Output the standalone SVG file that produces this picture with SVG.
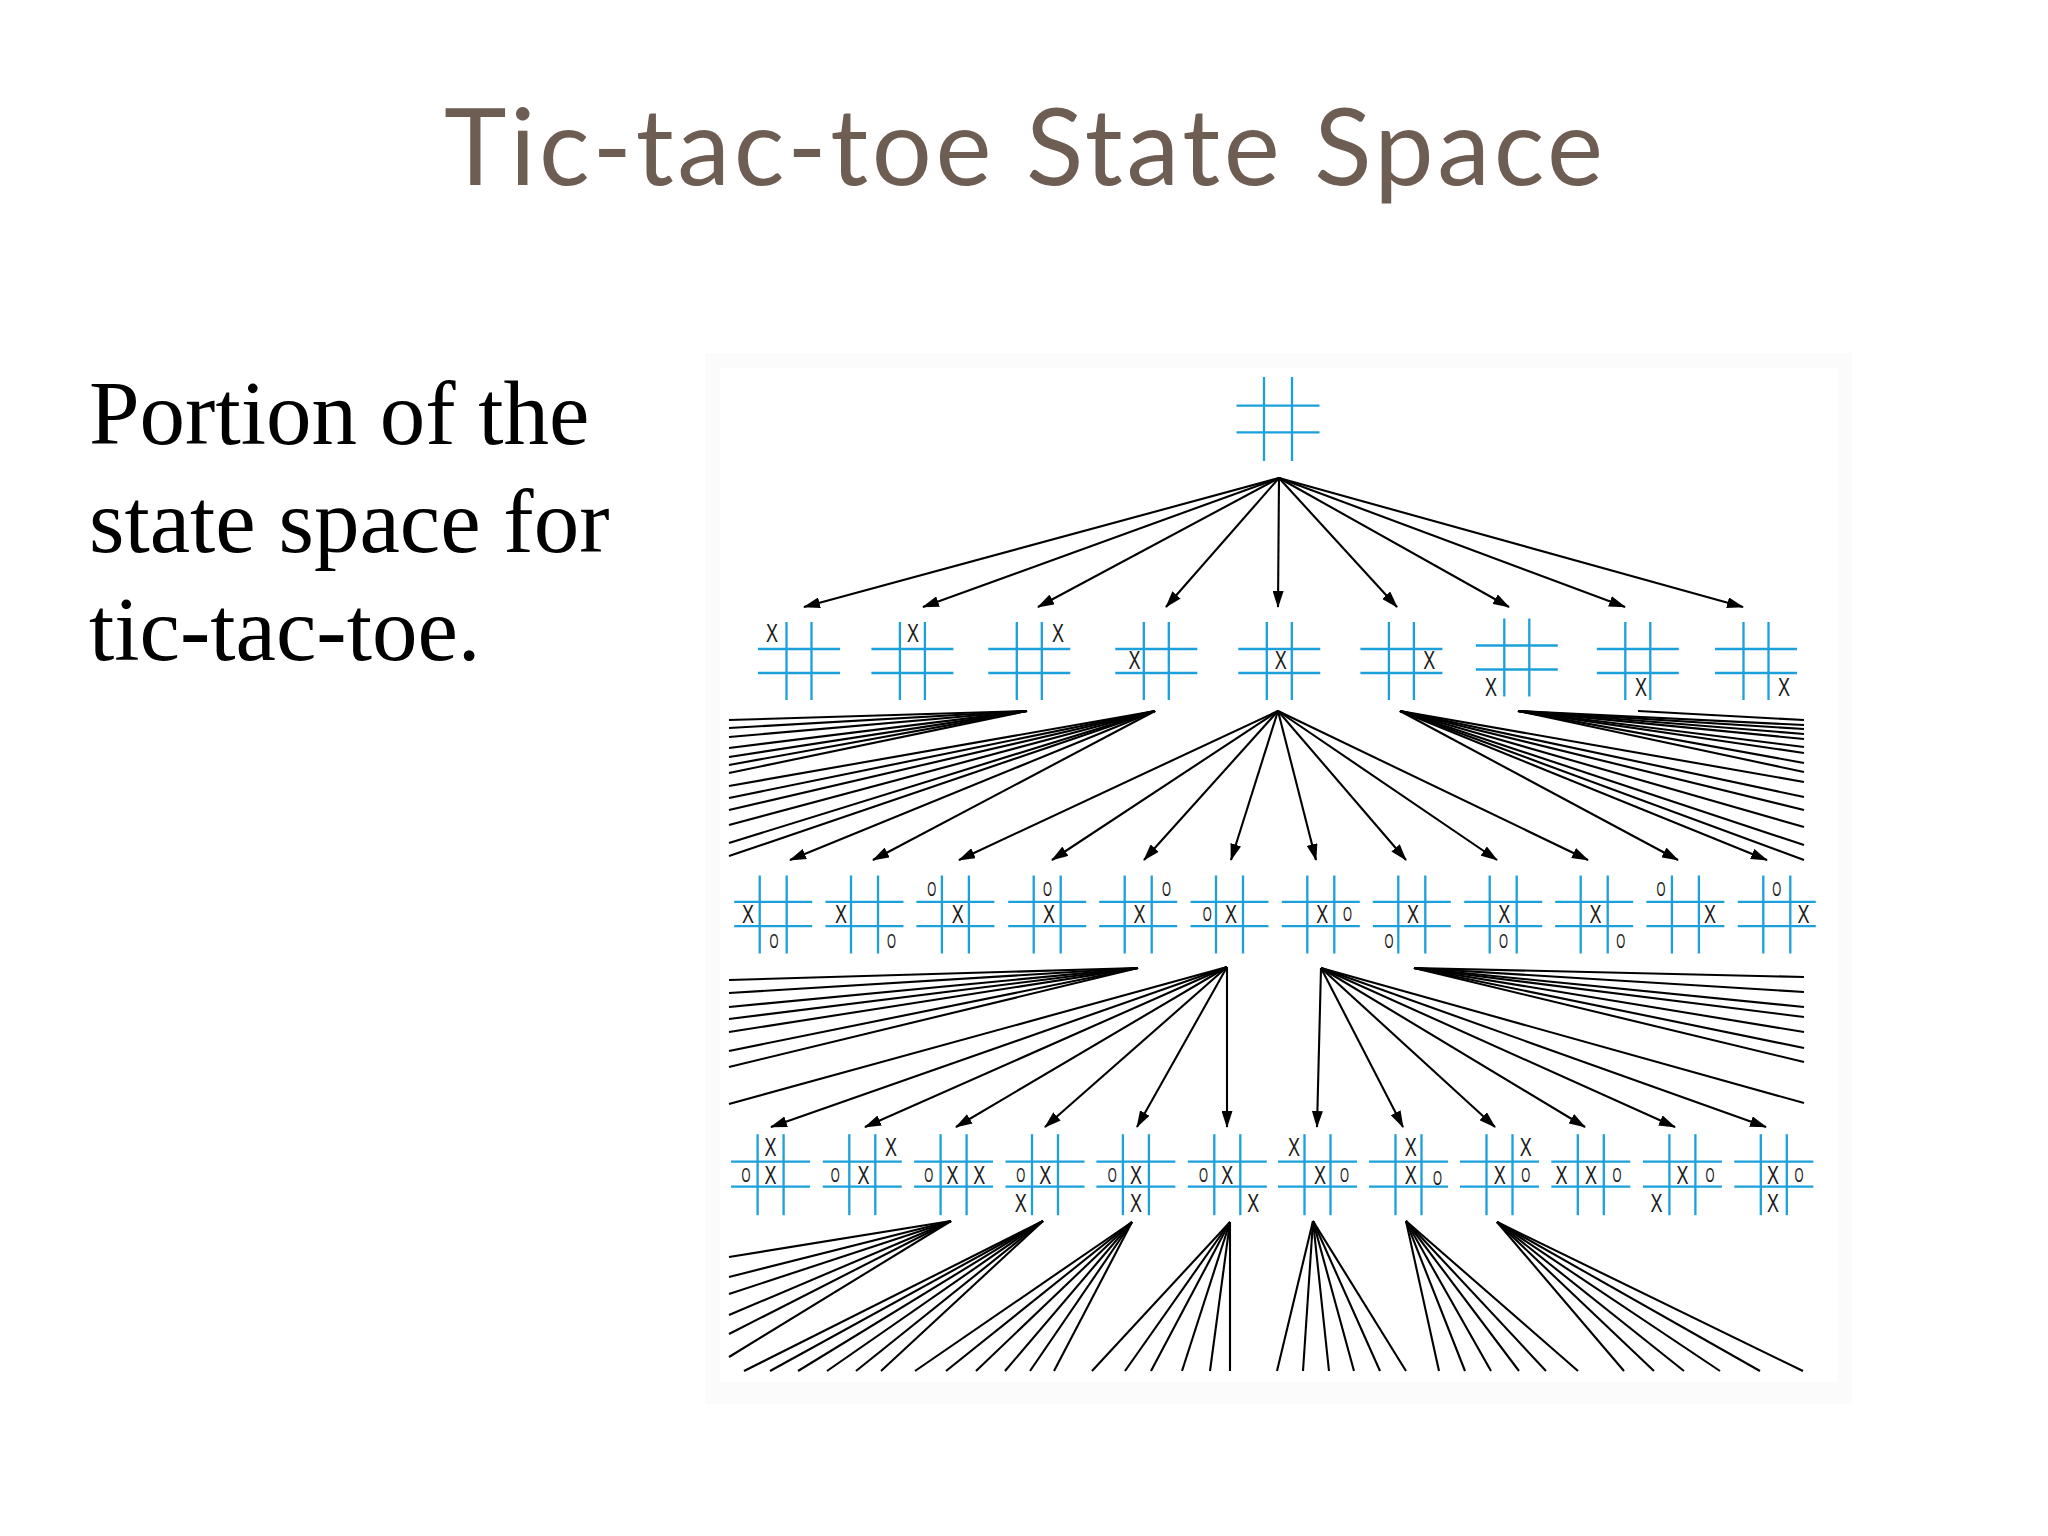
<svg xmlns="http://www.w3.org/2000/svg" xmlns:xlink="http://www.w3.org/1999/xlink" width="2048" height="1536" viewBox="0 0 2048 1536">
<style>
.title{font-family:Lato,"Liberation Sans",sans-serif;font-size:106px;fill:#6d5d53}
.body{font-family:"Liberation Serif","Times New Roman",serif;font-size:91px;fill:#000}
.grid line{stroke:#1ba0db;stroke-width:2.3}
.x{font-family:"Liberation Sans",Arial,sans-serif;font-size:25px;fill:#1a1a1a;text-anchor:middle}
.o{font-family:"Liberation Sans",Arial,sans-serif;font-size:20px;fill:#1a1a1a;text-anchor:middle}
#connectors line{stroke:#000;stroke-width:2.1;fill:none}
#connectors .arr{marker-end:url(#ah)}
</style>
<defs>
<marker id="ah" markerUnits="userSpaceOnUse" markerWidth="18" markerHeight="11" refX="16" refY="5.5" orient="auto">
<path d="M0,0 L17,5.5 L0,11 z" fill="#000"/>
</marker>
<g id="g0" class="grid"><line x1="-14" y1="-42" x2="-14" y2="42"/><line x1="14" y1="-42" x2="14" y2="42"/><line x1="-41.5" y1="-13.3" x2="41.5" y2="-13.3"/><line x1="-41.5" y1="13.3" x2="41.5" y2="13.3"/></g>
<g id="g1" class="grid"><line x1="-12.5" y1="-39" x2="-12.5" y2="39"/><line x1="12.5" y1="-39" x2="12.5" y2="39"/><line x1="-41" y1="-12" x2="41" y2="-12"/><line x1="-41" y1="12" x2="41" y2="12"/></g>
<g id="g2" class="grid"><line x1="-13.5" y1="-38.5" x2="-13.5" y2="39.5"/><line x1="13.5" y1="-38.5" x2="13.5" y2="39.5"/><line x1="-39" y1="-12.2" x2="39" y2="-12.2"/><line x1="-39" y1="12.2" x2="39" y2="12.2"/></g>
<g id="g3" class="grid"><line x1="-13" y1="-40" x2="-13" y2="41"/><line x1="13" y1="-40" x2="13" y2="41"/><line x1="-39.5" y1="-12.5" x2="39.5" y2="-12.5"/><line x1="-39.5" y1="12.5" x2="39.5" y2="12.5"/></g>
</defs>
<rect width="2048" height="1536" fill="#fff"/>
<text class="title" x="444" y="185" textLength="1159" lengthAdjust="spacing">Tic-tac-toe State Space</text>
<g id="caption">
<text class="body" x="89" y="444">Portion of the</text>
<text class="body" x="89" y="552">state space for</text>
<text class="body" x="89" y="660">tic-tac-toe.</text>
</g>
<rect x="705" y="353" width="1147" height="1051" fill="#fbfbfb"/>
<rect x="720" y="368" width="1118" height="1014" fill="#fff"/>

<g id="connectors">
<line class="arr" x1="1279" y1="478" x2="804" y2="607"/>
<line class="arr" x1="1279" y1="478" x2="923" y2="607"/>
<line class="arr" x1="1279" y1="478" x2="1038" y2="607"/>
<line class="arr" x1="1279" y1="478" x2="1166" y2="607"/>
<line class="arr" x1="1279" y1="478" x2="1278" y2="607"/>
<line class="arr" x1="1279" y1="478" x2="1397" y2="607"/>
<line class="arr" x1="1279" y1="478" x2="1509" y2="607"/>
<line class="arr" x1="1279" y1="478" x2="1625" y2="607"/>
<line class="arr" x1="1279" y1="478" x2="1743" y2="607"/>
<line x1="1027" y1="711" x2="729" y2="720"/>
<line x1="1027" y1="711" x2="729" y2="728"/>
<line x1="1027" y1="711" x2="729" y2="737"/>
<line x1="1027" y1="711" x2="729" y2="748"/>
<line x1="1027" y1="711" x2="729" y2="757"/>
<line x1="1027" y1="711" x2="729" y2="765"/>
<line x1="1027" y1="711" x2="729" y2="773"/>
<line x1="1155" y1="711" x2="729" y2="786"/>
<line x1="1155" y1="711" x2="729" y2="798"/>
<line x1="1155" y1="711" x2="729" y2="810"/>
<line x1="1155" y1="711" x2="729" y2="825"/>
<line x1="1155" y1="711" x2="729" y2="843"/>
<line x1="1155" y1="711" x2="729" y2="856"/>
<line class="arr" x1="1155" y1="711" x2="790" y2="860"/>
<line class="arr" x1="1155" y1="711" x2="873" y2="860"/>
<line class="arr" x1="1278" y1="711" x2="959" y2="860"/>
<line class="arr" x1="1278" y1="711" x2="1052" y2="860"/>
<line class="arr" x1="1278" y1="711" x2="1144" y2="860"/>
<line class="arr" x1="1278" y1="711" x2="1231" y2="860"/>
<line class="arr" x1="1278" y1="711" x2="1316" y2="860"/>
<line class="arr" x1="1278" y1="711" x2="1406" y2="860"/>
<line class="arr" x1="1278" y1="711" x2="1497" y2="860"/>
<line class="arr" x1="1278" y1="711" x2="1588" y2="860"/>
<line class="arr" x1="1400" y1="711" x2="1678" y2="860"/>
<line class="arr" x1="1400" y1="711" x2="1767" y2="860"/>
<line x1="1400" y1="711" x2="1804" y2="860"/>
<line x1="1400" y1="711" x2="1804" y2="845"/>
<line x1="1400" y1="711" x2="1804" y2="827"/>
<line x1="1400" y1="711" x2="1804" y2="810"/>
<line x1="1400" y1="711" x2="1804" y2="797"/>
<line x1="1400" y1="711" x2="1804" y2="782"/>
<line x1="1518" y1="711" x2="1804" y2="772"/>
<line x1="1518" y1="711" x2="1804" y2="763"/>
<line x1="1518" y1="711" x2="1804" y2="753"/>
<line x1="1518" y1="711" x2="1804" y2="747"/>
<line x1="1518" y1="711" x2="1804" y2="739"/>
<line x1="1518" y1="711" x2="1804" y2="734"/>
<line x1="1518" y1="711" x2="1804" y2="729"/>
<line x1="1518" y1="711" x2="1804" y2="725"/>
<line x1="1638" y1="711" x2="1804" y2="720"/>
<line x1="1138" y1="968" x2="729" y2="980"/>
<line x1="1138" y1="968" x2="729" y2="993"/>
<line x1="1138" y1="968" x2="729" y2="1007"/>
<line x1="1138" y1="968" x2="729" y2="1019"/>
<line x1="1138" y1="968" x2="729" y2="1032"/>
<line x1="1138" y1="968" x2="729" y2="1051"/>
<line x1="1138" y1="968" x2="729" y2="1067"/>
<line x1="1227" y1="967" x2="729" y2="1104"/>
<line class="arr" x1="1227" y1="967" x2="771" y2="1127"/>
<line class="arr" x1="1227" y1="967" x2="865" y2="1127"/>
<line class="arr" x1="1227" y1="967" x2="956" y2="1127"/>
<line class="arr" x1="1227" y1="967" x2="1045" y2="1127"/>
<line class="arr" x1="1227" y1="967" x2="1137" y2="1127"/>
<line class="arr" x1="1227" y1="967" x2="1227" y2="1127"/>
<line class="arr" x1="1321" y1="968" x2="1317" y2="1127"/>
<line class="arr" x1="1321" y1="968" x2="1403" y2="1127"/>
<line class="arr" x1="1321" y1="968" x2="1495" y2="1127"/>
<line class="arr" x1="1321" y1="968" x2="1585" y2="1127"/>
<line class="arr" x1="1321" y1="968" x2="1675" y2="1127"/>
<line class="arr" x1="1321" y1="968" x2="1766" y2="1127"/>
<line x1="1321" y1="968" x2="1804" y2="1103"/>
<line x1="1414" y1="968" x2="1804" y2="977"/>
<line x1="1414" y1="968" x2="1804" y2="992"/>
<line x1="1414" y1="968" x2="1804" y2="1007"/>
<line x1="1414" y1="968" x2="1804" y2="1017"/>
<line x1="1414" y1="968" x2="1804" y2="1032"/>
<line x1="1414" y1="968" x2="1804" y2="1048"/>
<line x1="1414" y1="968" x2="1804" y2="1062"/>
<line x1="951" y1="1221" x2="729" y2="1257"/>
<line x1="951" y1="1221" x2="729" y2="1277"/>
<line x1="951" y1="1221" x2="729" y2="1294"/>
<line x1="951" y1="1221" x2="729" y2="1315"/>
<line x1="951" y1="1221" x2="729" y2="1334"/>
<line x1="951" y1="1221" x2="729" y2="1357"/>
<line x1="1043" y1="1221" x2="744" y2="1371"/>
<line x1="1043" y1="1221" x2="770" y2="1371"/>
<line x1="1043" y1="1221" x2="798" y2="1371"/>
<line x1="1043" y1="1221" x2="827" y2="1371"/>
<line x1="1043" y1="1221" x2="856" y2="1371"/>
<line x1="1043" y1="1221" x2="881" y2="1371"/>
<line x1="1132" y1="1222" x2="915" y2="1371"/>
<line x1="1132" y1="1222" x2="946" y2="1371"/>
<line x1="1132" y1="1222" x2="976" y2="1371"/>
<line x1="1132" y1="1222" x2="1005" y2="1371"/>
<line x1="1132" y1="1222" x2="1030" y2="1371"/>
<line x1="1132" y1="1222" x2="1054" y2="1371"/>
<line x1="1230" y1="1222" x2="1092" y2="1371"/>
<line x1="1230" y1="1222" x2="1125" y2="1371"/>
<line x1="1230" y1="1222" x2="1151" y2="1371"/>
<line x1="1230" y1="1222" x2="1182" y2="1371"/>
<line x1="1230" y1="1222" x2="1210" y2="1371"/>
<line x1="1230" y1="1222" x2="1230" y2="1371"/>
<line x1="1313" y1="1221" x2="1277" y2="1371"/>
<line x1="1313" y1="1221" x2="1303" y2="1371"/>
<line x1="1313" y1="1221" x2="1329" y2="1371"/>
<line x1="1313" y1="1221" x2="1354" y2="1371"/>
<line x1="1313" y1="1221" x2="1380" y2="1371"/>
<line x1="1313" y1="1221" x2="1406" y2="1371"/>
<line x1="1406" y1="1221" x2="1439" y2="1371"/>
<line x1="1406" y1="1221" x2="1465" y2="1371"/>
<line x1="1406" y1="1221" x2="1491" y2="1371"/>
<line x1="1406" y1="1221" x2="1519" y2="1371"/>
<line x1="1406" y1="1221" x2="1546" y2="1371"/>
<line x1="1406" y1="1221" x2="1578" y2="1371"/>
<line x1="1497" y1="1222" x2="1624" y2="1371"/>
<line x1="1497" y1="1222" x2="1654" y2="1371"/>
<line x1="1497" y1="1222" x2="1684" y2="1371"/>
<line x1="1497" y1="1222" x2="1720" y2="1371"/>
<line x1="1497" y1="1222" x2="1760" y2="1371"/>
<line x1="1497" y1="1222" x2="1803" y2="1371"/>
</g>

<g id="root"><use href="#g0" x="1278" y="419"/></g>

<g id="l1_1"><use href="#g1" x="799" y="661"/><text class="x" x="772" y="642" textLength="12" lengthAdjust="spacingAndGlyphs">X</text></g>
<g id="l1_2"><use href="#g1" x="912.4" y="661"/><text class="x" x="913" y="642" textLength="12" lengthAdjust="spacingAndGlyphs">X</text></g>
<g id="l1_3"><use href="#g1" x="1029.3" y="661"/><text class="x" x="1058" y="642" textLength="12" lengthAdjust="spacingAndGlyphs">X</text></g>
<g id="l1_4"><use href="#g1" x="1156.3" y="661"/><text class="x" x="1134.4" y="669" textLength="12" lengthAdjust="spacingAndGlyphs">X</text></g>
<g id="l1_5"><use href="#g1" x="1279.3" y="661"/><text class="x" x="1280.7" y="669" textLength="12" lengthAdjust="spacingAndGlyphs">X</text></g>
<g id="l1_6"><use href="#g1" x="1401.4" y="661"/><text class="x" x="1429.2" y="669" textLength="12" lengthAdjust="spacingAndGlyphs">X</text></g>
<g id="l1_7"><use href="#g1" x="1516.8" y="657.5"/><text class="x" x="1491" y="696" textLength="12" lengthAdjust="spacingAndGlyphs">X</text></g>
<g id="l1_8"><use href="#g1" x="1637.8" y="661"/><text class="x" x="1641" y="696" textLength="12" lengthAdjust="spacingAndGlyphs">X</text></g>
<g id="l1_9"><use href="#g1" x="1756" y="661"/><text class="x" x="1784" y="696" textLength="12" lengthAdjust="spacingAndGlyphs">X</text></g>

<g id="l2_1"><use href="#g2" x="773.2" y="914"/><text class="x" x="748" y="923" textLength="12" lengthAdjust="spacingAndGlyphs">X</text><text class="o" x="774" y="948" textLength="9" lengthAdjust="spacingAndGlyphs">O</text></g>
<g id="l2_2"><use href="#g2" x="864.5" y="914"/><text class="x" x="841" y="923" textLength="12" lengthAdjust="spacingAndGlyphs">X</text><text class="o" x="891.6" y="948" textLength="9" lengthAdjust="spacingAndGlyphs">O</text></g>
<g id="l2_3"><use href="#g2" x="955.4" y="914"/><text class="o" x="931.7" y="896" textLength="9" lengthAdjust="spacingAndGlyphs">O</text><text class="x" x="957.7" y="923" textLength="12" lengthAdjust="spacingAndGlyphs">X</text></g>
<g id="l2_4"><use href="#g2" x="1047.2" y="914"/><text class="o" x="1047.5" y="896" textLength="9" lengthAdjust="spacingAndGlyphs">O</text><text class="x" x="1049" y="923" textLength="12" lengthAdjust="spacingAndGlyphs">X</text></g>
<g id="l2_5"><use href="#g2" x="1138.2" y="914"/><text class="x" x="1139.6" y="923" textLength="12" lengthAdjust="spacingAndGlyphs">X</text><text class="o" x="1166.4" y="896" textLength="9" lengthAdjust="spacingAndGlyphs">O</text></g>
<g id="l2_6"><use href="#g2" x="1229.5" y="914"/><text class="o" x="1207.2" y="921" textLength="9" lengthAdjust="spacingAndGlyphs">O</text><text class="x" x="1231" y="923" textLength="12" lengthAdjust="spacingAndGlyphs">X</text></g>
<g id="l2_7"><use href="#g2" x="1320.8" y="914"/><text class="x" x="1322.3" y="923" textLength="12" lengthAdjust="spacingAndGlyphs">X</text><text class="o" x="1347.6" y="921" textLength="9" lengthAdjust="spacingAndGlyphs">O</text></g>
<g id="l2_8"><use href="#g2" x="1411.8" y="914"/><text class="x" x="1412.9" y="923" textLength="12" lengthAdjust="spacingAndGlyphs">X</text><text class="o" x="1389" y="948" textLength="9" lengthAdjust="spacingAndGlyphs">O</text></g>
<g id="l2_9"><use href="#g2" x="1503.2" y="914"/><text class="x" x="1504.2" y="923" textLength="12" lengthAdjust="spacingAndGlyphs">X</text><text class="o" x="1503.5" y="948" textLength="9" lengthAdjust="spacingAndGlyphs">O</text></g>
<g id="l2_10"><use href="#g2" x="1594.2" y="914"/><text class="x" x="1595.6" y="923" textLength="12" lengthAdjust="spacingAndGlyphs">X</text><text class="o" x="1620.8" y="948" textLength="9" lengthAdjust="spacingAndGlyphs">O</text></g>
<g id="l2_11"><use href="#g2" x="1685.4" y="914"/><text class="o" x="1661" y="896" textLength="9" lengthAdjust="spacingAndGlyphs">O</text><text class="x" x="1710" y="923" textLength="12" lengthAdjust="spacingAndGlyphs">X</text></g>
<g id="l2_12"><use href="#g2" x="1776.8" y="914"/><text class="o" x="1776.8" y="896" textLength="9" lengthAdjust="spacingAndGlyphs">O</text><text class="x" x="1803.5" y="923" textLength="12" lengthAdjust="spacingAndGlyphs">X</text></g>

<g id="l3_1"><use href="#g3" x="770.6" y="1174.2"/><text class="x" x="770.5" y="1156" textLength="12" lengthAdjust="spacingAndGlyphs">X</text><text class="o" x="746" y="1182" textLength="9" lengthAdjust="spacingAndGlyphs">O</text><text class="x" x="770.5" y="1184" textLength="12" lengthAdjust="spacingAndGlyphs">X</text></g>
<g id="l3_2"><use href="#g3" x="862.3" y="1174.2"/><text class="x" x="890.9" y="1156" textLength="12" lengthAdjust="spacingAndGlyphs">X</text><text class="o" x="835.2" y="1182" textLength="9" lengthAdjust="spacingAndGlyphs">O</text><text class="x" x="863.4" y="1184" textLength="12" lengthAdjust="spacingAndGlyphs">X</text></g>
<g id="l3_3"><use href="#g3" x="953.6" y="1174.2"/><text class="o" x="928.7" y="1182" textLength="9" lengthAdjust="spacingAndGlyphs">O</text><text class="x" x="952.5" y="1184" textLength="12" lengthAdjust="spacingAndGlyphs">X</text><text class="x" x="979.2" y="1184" textLength="12" lengthAdjust="spacingAndGlyphs">X</text></g>
<g id="l3_4"><use href="#g3" x="1045" y="1174.2"/><text class="o" x="1020.8" y="1182" textLength="9" lengthAdjust="spacingAndGlyphs">O</text><text class="x" x="1045.3" y="1184" textLength="12" lengthAdjust="spacingAndGlyphs">X</text><text class="x" x="1020.8" y="1212" textLength="12" lengthAdjust="spacingAndGlyphs">X</text></g>
<g id="l3_5"><use href="#g3" x="1135.9" y="1174.2"/><text class="o" x="1112.2" y="1182" textLength="9" lengthAdjust="spacingAndGlyphs">O</text><text class="x" x="1135.9" y="1184" textLength="12" lengthAdjust="spacingAndGlyphs">X</text><text class="x" x="1135.9" y="1212" textLength="12" lengthAdjust="spacingAndGlyphs">X</text></g>
<g id="l3_6"><use href="#g3" x="1227.3" y="1174.2"/><text class="o" x="1203.5" y="1182" textLength="9" lengthAdjust="spacingAndGlyphs">O</text><text class="x" x="1227.3" y="1184" textLength="12" lengthAdjust="spacingAndGlyphs">X</text><text class="x" x="1253.2" y="1212" textLength="12" lengthAdjust="spacingAndGlyphs">X</text></g>
<g id="l3_7"><use href="#g3" x="1317.5" y="1174.2"/><text class="x" x="1294" y="1156" textLength="12" lengthAdjust="spacingAndGlyphs">X</text><text class="x" x="1320" y="1184" textLength="12" lengthAdjust="spacingAndGlyphs">X</text><text class="o" x="1344.6" y="1182" textLength="9" lengthAdjust="spacingAndGlyphs">O</text></g>
<g id="l3_8"><use href="#g3" x="1408.5" y="1174.2"/><text class="x" x="1410.7" y="1156" textLength="12" lengthAdjust="spacingAndGlyphs">X</text><text class="x" x="1410.7" y="1184" textLength="12" lengthAdjust="spacingAndGlyphs">X</text><text class="o" x="1437.4" y="1185" textLength="9" lengthAdjust="spacingAndGlyphs">O</text></g>
<g id="l3_9"><use href="#g3" x="1499.5" y="1174.2"/><text class="x" x="1525.8" y="1156" textLength="12" lengthAdjust="spacingAndGlyphs">X</text><text class="x" x="1499.8" y="1184" textLength="12" lengthAdjust="spacingAndGlyphs">X</text><text class="o" x="1525.8" y="1182" textLength="9" lengthAdjust="spacingAndGlyphs">O</text></g>
<g id="l3_10"><use href="#g3" x="1590.8" y="1174.2"/><text class="x" x="1561.4" y="1184" textLength="12" lengthAdjust="spacingAndGlyphs">X</text><text class="x" x="1591.1" y="1184" textLength="12" lengthAdjust="spacingAndGlyphs">X</text><text class="o" x="1617.1" y="1182" textLength="9" lengthAdjust="spacingAndGlyphs">O</text></g>
<g id="l3_11"><use href="#g3" x="1682.4" y="1174.2"/><text class="x" x="1682.5" y="1184" textLength="12" lengthAdjust="spacingAndGlyphs">X</text><text class="o" x="1710" y="1182" textLength="9" lengthAdjust="spacingAndGlyphs">O</text><text class="x" x="1656.5" y="1212" textLength="12" lengthAdjust="spacingAndGlyphs">X</text></g>
<g id="l3_12"><use href="#g3" x="1773.8" y="1174.2"/><text class="x" x="1773" y="1184" textLength="12" lengthAdjust="spacingAndGlyphs">X</text><text class="o" x="1799" y="1182" textLength="9" lengthAdjust="spacingAndGlyphs">O</text><text class="x" x="1773" y="1212" textLength="12" lengthAdjust="spacingAndGlyphs">X</text></g>
</svg>
